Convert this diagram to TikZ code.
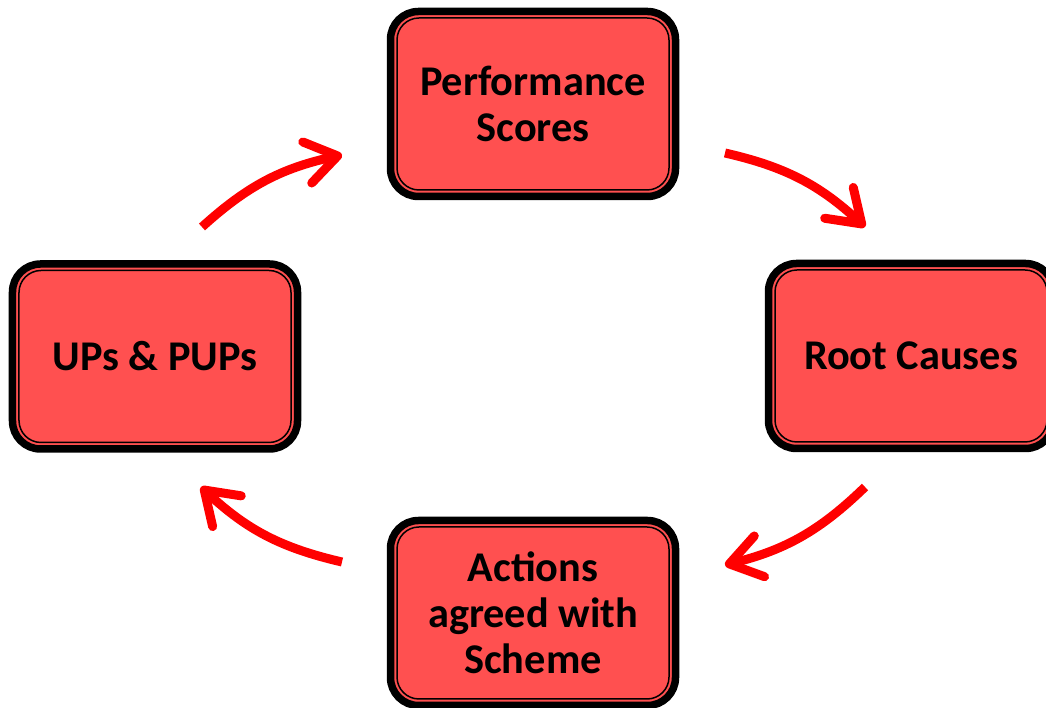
\documentclass[tikz,border=0pt]{standalone}
\usepackage{fontspec}
\setmainfont{Carlito}
\usetikzlibrary{arrows.meta}
\definecolor{boxred}{RGB}{255,80,80}
\definecolor{arrred}{RGB}{255,0,0}
\begin{document}
\begin{tikzpicture}[x=1bp,y=1bp,
  stagebox/.style={draw=black, line width=7.5bp, fill=boxred, rounded corners=28bp,
    minimum width=285bp, minimum height=185bp, align=center, outer sep=0pt,
    inner sep=0pt, font=\fontsize{42.5}{46}\selectfont\bfseries},
  innerline/.style={draw=black, line width=1.5bp, rounded corners=22bp},
  flow/.style={draw=arrred, line width=9bp,
    -{Straight Barb[length=31bp,width=42bp,round]}, bend left=15}
]
\useasboundingbox (0,0) rectangle (1046,708);
\node[stagebox] (perf) at (533,604) {Performance\\Scores};
\node[stagebox] (ups) at (155,351.5) {UPs \& PUPs};
\node[stagebox] (root) at (911,352) {Root Causes};
\node[stagebox] (act) at (533,95) {Actions\\agreed with\\Scheme};
\foreach \n in {perf,ups,root,act}{
  \draw[innerline] ([shift={(6.5,6.5)}]\n.south west) rectangle ([shift={(-6.5,-6.5)}]\n.north east);
}
\coordinate (a1s) at (202,481); \coordinate (a1e) at (342,553);
\coordinate (a2s) at (725,555); \coordinate (a2e) at (865,481);
\coordinate (a3s) at (865,221); \coordinate (a3e) at (725,143);
\coordinate (a4s) at (342,146); \coordinate (a4e) at (201,221);
\draw[flow] (a1s) to (a1e);
\draw[flow] (a2s) to (a2e);
\draw[flow] (a3s) to (a3e);
\draw[flow] (a4s) to (a4e);
\end{tikzpicture}
\end{document}
